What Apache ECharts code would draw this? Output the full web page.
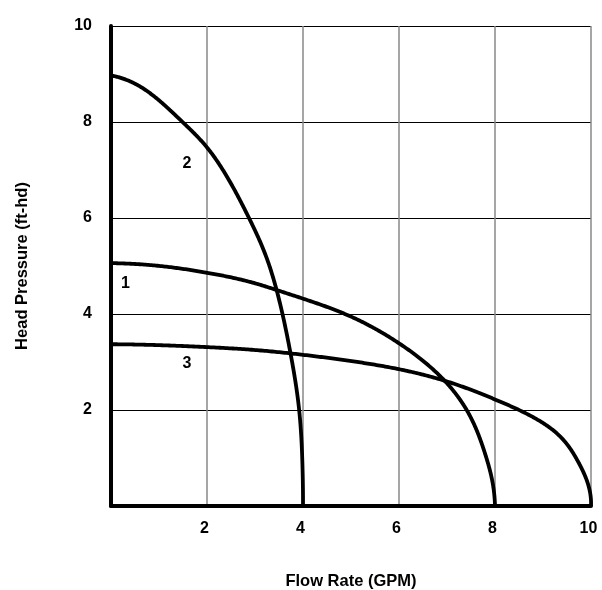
<!DOCTYPE html>
<html>
<head>
<meta charset="utf-8">
<script src="https://cdn.jsdelivr.net/npm/echarts@6/dist/echarts.min.js"></script>
<style>
  html, body { margin: 0; padding: 0; background: #fff; }
  #chart { width: 602px; height: 590px; }
</style>
</head>
<body>
<div id="chart"></div>
<script>
// Pump curves: flow rate (GPM) vs head pressure (ft-hd)
const curve1X = [0, 0.81, 2, 3, 3.45, 4, 4.875, 6, 6.95, 7.41, 7.79, 7.94, 8.0];
const curve1Y = [5.06, 5.02, 4.86, 4.64, 4.5, 4.32, 4.0, 3.39, 2.61, 2.0, 1.1, 0.54, 0];

const curve2X = [0, 0.57, 1.49, 2.0, 2.875, 3.26, 3.45, 3.74, 3.92, 3.99, 4.0];
const curve2Y = [8.97, 8.76, 8.0, 7.47, 6.0, 5.12, 4.5, 3.18, 2.0, 0.8, 0];

const curve3X = [0, 2, 3, 4, 5, 6, 6.95, 8, 8.5, 9.21, 9.7, 9.91, 10];
const curve3Y = [3.37, 3.31, 3.25, 3.15, 3.02, 2.85, 2.61, 2.22, 2.0, 1.58, 0.98, 0.54, 0];

const curveLabels = ['1', '2', '3'];
const curveLabelX = [0.30, 1.58, 1.58];
const curveLabelY = [4.64, 7.14, 2.96];

const xTicks = [2, 4, 6, 8, 10];
const yTicks = [2, 4, 6, 8, 10];

const FONT = "'Liberation Sans', Arial, Helvetica, sans-serif";

function pts(xs, ys) { return xs.map((x, i) => [x, ys[i]]); }

// Smooth path through the read points: each curve is a rounded quarter arc from
// (0, shutoff head) to (max flow, 0); its normalised radius is interpolated over
// the arc angle with a natural cubic spline, and every vertex goes through api.coord.
function smoothArc(xs, ys, steps) {
  const n = xs.length;
  const x1 = xs[n - 1], y0 = ys[0];
  const T = [], R = [];
  for (let i = n - 1; i >= 0; i--) {           // ascending angle
    const u = xs[i] / x1, v = ys[i] / y0;
    T.push(Math.atan2(v, u));
    R.push(Math.hypot(u, v));
  }
  const h = [];
  for (let i = 0; i < n - 1; i++) h.push(T[i + 1] - T[i]);
  const M = new Array(n).fill(0);
  const a = [], b = [], c = [], d = [];
  for (let i = 1; i < n - 1; i++) {
    a.push(h[i - 1]); b.push(2 * (h[i - 1] + h[i])); c.push(h[i]);
    d.push(6 * ((R[i + 1] - R[i]) / h[i] - (R[i] - R[i - 1]) / h[i - 1]));
  }
  const m = d.length;
  for (let i = 1; i < m; i++) {
    const w = a[i] / b[i - 1];
    b[i] -= w * c[i - 1];
    d[i] -= w * d[i - 1];
  }
  const sol = new Array(m);
  for (let i = m - 1; i >= 0; i--) sol[i] = (d[i] - (i < m - 1 ? c[i] * sol[i + 1] : 0)) / b[i];
  for (let i = 0; i < m; i++) M[i + 1] = sol[i];

  const out = [];
  for (let s = 0; s <= steps; s++) {
    const t = T[0] + (T[n - 1] - T[0]) * s / steps;
    let k = 0;
    while (k < n - 2 && t > T[k + 1]) k++;
    const hk = h[k];
    const A = (T[k + 1] - t) / hk, B = (t - T[k]) / hk;
    const r = A * R[k] + B * R[k + 1] + ((A * A * A - A) * M[k] + (B * B * B - B) * M[k + 1]) * hk * hk / 6;
    out.push([x1 * r * Math.cos(t), y0 * r * Math.sin(t)]);
  }
  return out;
}

const curveSeries = (xs, ys) => ({
  type: 'custom',
  data: pts(xs, ys),
  clip: false,
  z: 3,
  silent: true,
  renderItem: function (params, api) {
    if (params.dataIndex !== 0) return null;
    const pix = smoothArc(xs, ys, 400).map(p => api.coord(p));
    return {
      type: 'polyline',
      shape: { points: pix },
      style: { fill: null, stroke: '#000', lineWidth: 3.8, lineJoin: 'round', lineCap: 'butt' }
    };
  }
});

const chart = echarts.init(document.getElementById('chart'), null, { renderer: 'canvas' });
chart.setOption({
  animation: false,
  backgroundColor: '#fff',
  grid: { left: 111, right: 11, top: 26, bottom: 84, containLabel: false, outerBoundsMode: 'none' },
  xAxis: {
    type: 'value', min: 0, max: 10, interval: 2,
    name: 'Flow Rate (GPM)', nameLocation: 'middle', nameGap: 67,
    nameTextStyle: { color: '#000', fontWeight: 'bold', fontSize: 16.5, fontFamily: FONT },
    axisLine: { show: true, lineStyle: { color: '#000', width: 4 } },
    axisTick: { show: false },
    axisLabel: {
      color: '#000', fontWeight: 'bold', fontSize: 16, fontFamily: FONT, margin: 15,
      padding: [0, 5, 0, 0],
      formatter: v => (xTicks.indexOf(v) >= 0 ? String(v) : '')
    },
    splitLine: { show: true, lineStyle: { color: '#888', width: 1.5 } }
  },
  yAxis: {
    type: 'value', min: 0, max: 10, interval: 2,
    name: 'Head Pressure (ft-hd)', nameLocation: 'middle', nameGap: 80,
    nameTextStyle: { color: '#000', fontWeight: 'bold', fontSize: 16.5, fontFamily: FONT },
    axisLine: { show: true, lineStyle: { color: '#000', width: 4 } },
    axisTick: { show: false },
    axisLabel: {
      color: '#000', fontWeight: 'bold', fontSize: 16, fontFamily: FONT, margin: 19,
      padding: [0, 0, 11, 0],
      formatter: v => (yTicks.indexOf(v) >= 0 ? String(v) : '')
    },
    splitLine: { show: true, lineStyle: { color: '#000', width: 1 } }
  },
  series: [
    curveSeries(curve1X, curve1Y),
    curveSeries(curve2X, curve2Y),
    curveSeries(curve3X, curve3Y),
    {
      type: 'scatter',
      symbolSize: 0,
      itemStyle: { color: '#000', opacity: 1 },
      data: curveLabels.map((t, i) => ({ name: t, value: [curveLabelX[i], curveLabelY[i]] })),
      label: {
        show: true, position: 'inside', formatter: '{b}', opacity: 1,
        color: '#000', fontWeight: 'bold', fontSize: 16, fontFamily: FONT
      },
      emphasis: { disabled: true },
      z: 4
    }
  ]
});
</script>
</body>
</html>
